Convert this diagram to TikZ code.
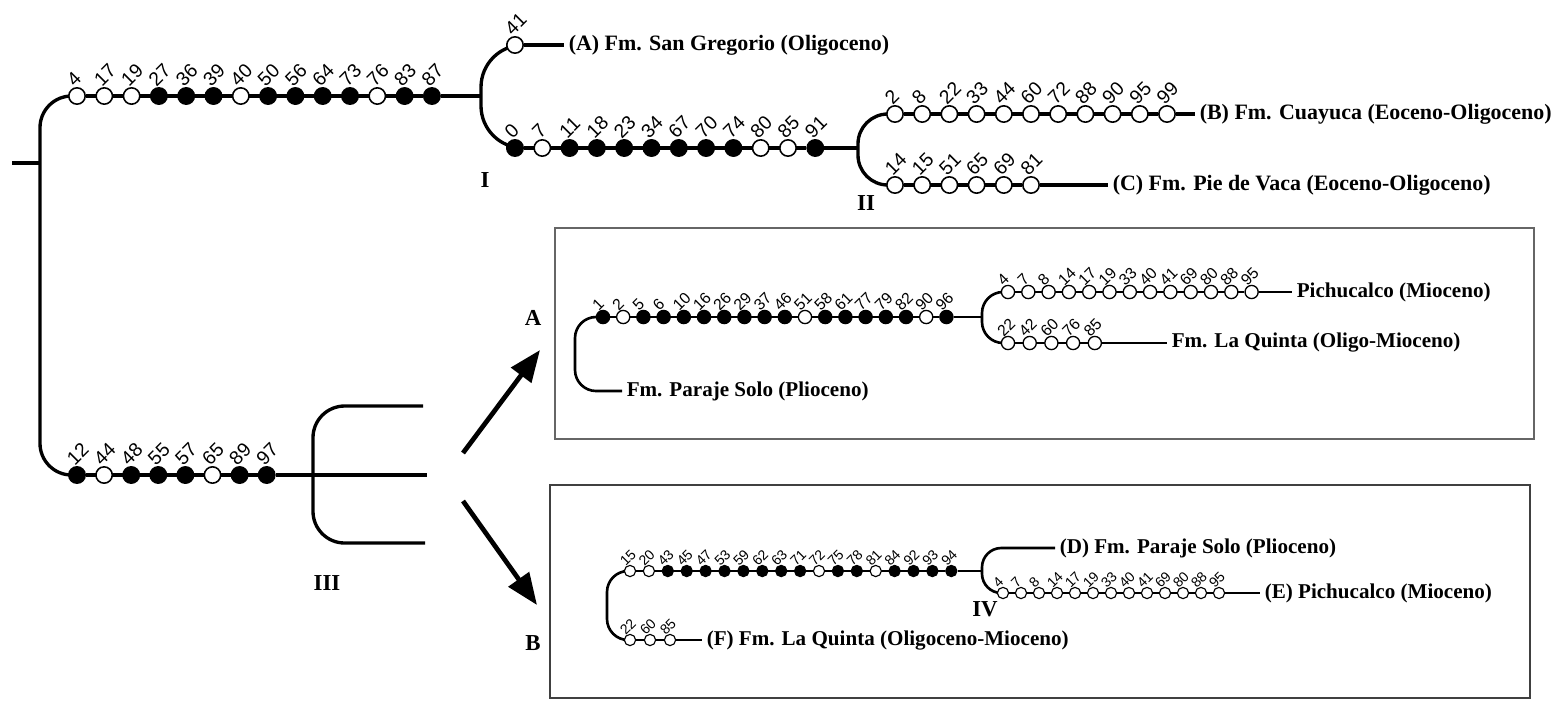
\documentclass[tikz,border=0pt]{standalone}
\usepackage{fontspec}
\setmainfont{Liberation Serif}
\newfontfamily\numfont{Liberation Sans}
\usetikzlibrary{arrows.meta,backgrounds}

\tikzset{
  tree/.style={line width=1.9pt},
  twig/.style={line width=1.5pt},
  hap/.style={circle, draw, line width=0.9pt, inner sep=0pt, minimum size=9.3pt},
  hsmall/.style={hap, minimum size=7.5pt, line width=0.75pt},
  htiny/.style={hap, minimum size=6.4pt, line width=0.65pt},
  hw/.style={fill=white},
  hb/.style={fill=black},
  numtop/.style={rotate=45, anchor=south west, inner sep=0.6pt, xshift=-1.8pt,
    font=\numfont\fontsize{11}{12}\selectfont},
  numbox/.style={numtop, xshift=-1.6pt, font=\numfont\fontsize{9}{10}\selectfont},
  numtiny/.style={numtop, xshift=-1.5pt, font=\numfont\fontsize{8}{9}\selectfont},
  taxon/.style={anchor=west, inner sep=2.5pt, font=\bfseries\fontsize{12.5}{14}\selectfont},
  taxbox/.style={taxon, font=\bfseries\fontsize{12}{14}\selectfont},
  roman/.style={font=\bfseries\fontsize{13}{14}\selectfont, inner sep=0pt},
  bigarrow/.style={line width=2.7pt, -{Triangle[length=18pt,width=14pt]}},
  boxline/.style={line width=1pt, draw=black!75},
}

\begin{document}
\begin{tikzpicture}[x=0.02cm, y=-0.02cm]
\useasboundingbox (0,0) rectangle (1551,704);

% main tree
\coordinate (root) at (12,163);
\coordinate (r) at (40,163);
\coordinate (I) at (481,96);
\coordinate (II) at (858,148);
\coordinate (III) at (313,475);
\coordinate (iiiT) at (423,406);
\coordinate (iiiM) at (427,475);
\coordinate (iiiB) at (425,543);

\foreach \n/\f [count=\i] in {4/hw,17/hw,19/hw,27/hb,36/hb,39/hb,40/hw,50/hb,56/hb,64/hb,73/hb,76/hw,83/hb,87/hb}
  \node[hap,\f,label={[numtop]90:\n}] (t\i) at ({77+27.3*(\i-1)},96) {};
\node[hap,hw,label={[numtop]90:41}] (g41) at (515,45) {};
\foreach \n/\f [count=\i] in {0/hb,7/hw,11/hb,18/hb,23/hb,34/hb,67/hb,70/hb,74/hb,80/hw,85/hw,91/hb}
  \node[hap,\f,label={[numtop]90:\n}] (b\i) at ({515+27.3*(\i-1)},148) {};
\foreach \n [count=\i] in {2,8,22,33,44,60,72,88,90,95,99}
  \node[hap,hw,label={[numtop]90:\n}] (c\i) at ({895+27.2*(\i-1)},114) {};
\foreach \n [count=\i] in {14,15,51,65,69,81}
  \node[hap,hw,label={[numtop]90:\n}] (d\i) at ({895+27.2*(\i-1)},185) {};
\foreach \n/\f [count=\i] in {12/hb,44/hw,48/hb,55/hb,57/hb,65/hw,89/hb,97/hb}
  \node[hap,\f,label={[numtop]90:\n}] (u\i) at ({77+27.1*(\i-1)},475) {};

\node[taxon] (labA) at (564,45) {(A) Fm. San Gregorio (Oligoceno)};
\node[taxon] (labB) at (1195,114) {(B) Fm. Cuayuca (Eoceno-Oligoceno)};
\node[taxon] (labC) at (1108,185) {(C) Fm. Pie de Vaca (Eoceno-Oligoceno)};

\node[roman] (nI) at (485,180) {I};
\node[roman] (nII) at (866,203) {II};
\node[roman] (nIII) at (327,583) {III};

\begin{scope}[on background layer]
  \draw[tree] (root) -- (r);
  \draw[tree, rounded corners=18pt] (t1) -- (r |- t1) -- (r |- u1) -- (u1);
  \draw[tree] (t1) -- (t14) -- (I);
  \draw[tree, rounded corners=24pt] (g41) -- (I |- g41) -- (I |- b1) -- (b1);
  \draw[tree] (g41) -- (labA);
  \draw[tree] (b1) -- (b12) -- (II);
  \draw[tree, rounded corners=17pt] (c1) -- (II |- c1) -- (II |- d1) -- (d1);
  \draw[tree] (c1) -- (c11) -- (labB);
  \draw[tree] (d1) -- (d6) -- (labC);
  \draw[tree] (u1) -- (u8) -- (iiiM);
  \draw[tree, rounded corners=18pt] (iiiT) -- (III |- iiiT) -- (III |- iiiB) -- (iiiB);
\end{scope}

% arrows to the two boxes
\coordinate (arA0) at (463,453);
\coordinate (arA1) at (540,350);
\coordinate (arB0) at (463,501);
\coordinate (arB1) at (537,605);
\draw[bigarrow] (arA0) -- (arA1);
\draw[bigarrow] (arB0) -- (arB1);
\node[roman] (nA) at (533,318) {A};
\node[roman] (nB) at (533,643) {B};

% box A
\draw[boxline, draw=black!60] (555,228) rectangle (1534,439);
\coordinate (jA) at (982,317);
\coordinate (cornA) at (575,391);
\foreach \n/\f [count=\i] in {1/hb,2/hw,5/hb,6/hb,10/hb,16/hb,26/hb,29/hb,37/hb,46/hb,51/hw,58/hb,61/hb,77/hb,79/hb,82/hb,90/hw,96/hb}
  \node[hsmall,\f,label={[numbox]90:\n}] (p\i) at ({603+20.2*(\i-1)},317) {};
\foreach \n [count=\i] in {4,7,8,14,17,19,33,40,41,69,80,88,95}
  \node[hsmall,hw,label={[numbox]90:\n}] (q\i) at ({1008+20.3*(\i-1)},292) {};
\foreach \n [count=\i] in {22,42,60,76,85}
  \node[hsmall,hw,label={[numbox]90:\n}] (s\i) at ({1008+21.7*(\i-1)},343) {};
\node[taxbox] (labPS) at (622,391) {Fm. Paraje Solo (Plioceno)};
\node[taxbox] (labPi) at (1292,292) {Pichucalco (Mioceno)};
\node[taxbox] (labLQ) at (1167,343) {Fm. La Quinta (Oligo-Mioceno)};

\begin{scope}[on background layer]
  \draw[twig, rounded corners=12pt] (p1) -| (cornA) -- (labPS);
  \draw[twig] (p1) -- (p18) -- (jA);
  \draw[twig, rounded corners=12pt] (q1) -- (jA |- q1) -- (jA |- s1) -- (s1);
  \draw[twig] (q1) -- (q13) -- (labPi);
  \draw[twig] (s1) -- (s5) -- (labLQ);
\end{scope}

% box B
\draw[boxline] (550,485) rectangle (1530,698);
\coordinate (jB) at (982,571);
\coordinate (cornB) at (607,640);
\foreach \n/\f [count=\i] in {15/hw,20/hw,43/hb,45/hb,47/hb,53/hb,59/hb,62/hb,63/hb,71/hb,72/hw,75/hb,78/hb,81/hw,84/hb,92/hb,93/hb,94/hb}
  \node[htiny,\f,label={[numtiny]90:\n}] (m\i) at ({630+18.9*(\i-1)},571) {};
\foreach \n [count=\i] in {22,60,85}
  \node[htiny,hw,label={[numtiny]90:\n}] (n\i) at ({630+20*(\i-1)},640) {};
\foreach \n [count=\i] in {4,7,8,14,17,19,33,40,41,69,80,88,95}
  \node[htiny,hw,label={[numtiny]90:\n}] (e\i) at ({1003+18*(\i-1)},593) {};
\node[taxbox] (labD) at (1055,548) {(D) Fm. Paraje Solo (Plioceno)};
\node[taxbox] (labE) at (1260,593) {(E) Pichucalco (Mioceno)};
\node[taxbox] (labF) at (702,640) {(F) Fm. La Quinta (Oligoceno-Mioceno)};
\node[roman] (nIV) at (985,609) {IV};

\begin{scope}[on background layer]
  \draw[twig, rounded corners=12pt] (m1) -| (cornB) -- (n1);
  \draw[twig] (m1) -- (m18) -- (jB);
  \draw[twig, rounded corners=11pt] (labD) -- (jB |- labD) -- (jB |- e1) -- (e1);
  \draw[twig] (n1) -- (n3) -- (labF);
  \draw[twig] (e1) -- (e13) -- (labE);
\end{scope}
\end{tikzpicture}
\end{document}
